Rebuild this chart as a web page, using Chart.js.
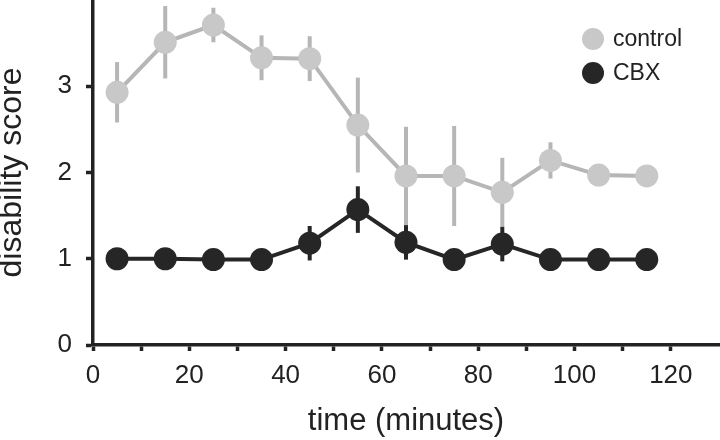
<!DOCTYPE html>
<html>
<head>
<meta charset="utf-8">
<script src="https://cdn.jsdelivr.net/npm/chart.js@4"></script>
<style>
  html, body { margin: 0; padding: 0; background: #fff; }
  #wrap { width: 720px; height: 440px; }
</style>
</head>
<body>
<div id="wrap"><canvas id="chart"></canvas></div>
<script>
// values
const timePoints = [5, 15, 25, 35, 45, 55, 65, 75, 85, 95, 105, 115];
const controlMean = [2.93, 3.51, 3.71, 3.33, 3.32, 2.55, 1.96, 1.96, 1.77, 2.14, 1.97, 1.96];
const controlErr  = [0.35, 0.42, 0.20, 0.26, 0.26, 0.55, 0.57, 0.58, 0.40, 0.21, 0.08, 0.08];
const cbxMean = [1.00, 1.00, 0.99, 0.99, 1.18, 1.57, 1.19, 0.99, 1.17, 0.99, 0.99, 0.99];
const cbxErr  = [0.05, 0.05, 0.05, 0.05, 0.20, 0.27, 0.20, 0.05, 0.20, 0.05, 0.05, 0.05];
const xTickLabels = [0, 20, 40, 60, 80, 100, 120];
const yTickLabels = [0, 1, 2, 3];

const INK = '#222222';
const FONT = 'Liberation Sans, Arial, sans-serif';

function toPoints(means) {
    return timePoints.map((t, i) => ({ x: t, y: means[i] }));
}

// vertical error bars, drawn right before their own dataset
const errorBars = {
    id: 'errorBars',
    beforeDatasetDraw(chart, args) {
        const ds = chart.data.datasets[args.index];
        if (!ds.errors) return;
        const { ctx, scales: { x, y } } = chart;
        ctx.save();
        ctx.strokeStyle = ds.borderColor;
        ctx.lineWidth = 4;
        ds.data.forEach((p, i) => {
            const px = x.getPixelForValue(p.x);
            ctx.beginPath();
            ctx.moveTo(px, y.getPixelForValue(p.y - ds.errors[i]));
            ctx.lineTo(px, y.getPixelForValue(p.y + ds.errors[i]));
            ctx.stroke();
        });
        ctx.restore();
    }
};

// small legend inside the plot, top right
const cornerLegend = {
    id: 'cornerLegend',
    afterDraw(chart) {
        const { ctx, chartArea } = chart;
        const cx = chartArea.right - 126;
        let cy = chartArea.top + 39;
        ctx.save();
        ctx.font = '23px ' + FONT;
        ctx.textBaseline = 'middle';
        ctx.textAlign = 'left';
        chart.data.datasets.forEach(ds => {
            ctx.fillStyle = ds.pointBackgroundColor;
            ctx.beginPath();
            ctx.arc(cx, cy, 11, 0, Math.PI * 2);
            ctx.fill();
            ctx.fillStyle = INK;
            ctx.fillText(ds.label, cx + 20, cy + 1);
            cy += 34;
        });
        ctx.restore();
    }
};

new Chart(document.getElementById('chart'), {
    type: 'line',
    data: {
        datasets: [
            {
                label: 'control',
                data: toPoints(controlMean),
                errors: controlErr,
                borderColor: '#b6b6b6',
                pointBackgroundColor: '#c8c8c8',
                borderWidth: 4,
                pointRadius: 11.5,
                pointBorderWidth: 0,
                order: 2
            },
            {
                label: 'CBX',
                data: toPoints(cbxMean),
                errors: cbxErr,
                borderColor: '#262626',
                pointBackgroundColor: '#262626',
                borderWidth: 4,
                pointRadius: 11.5,
                pointBorderWidth: 0,
                order: 1
            }
        ]
    },
    options: {
        responsive: true,
        maintainAspectRatio: false,
        animation: false,
        layout: { autoPadding: false, padding: { left: 0, right: 1, top: 0, bottom: 0 } },
        plugins: { legend: { display: false }, tooltip: { enabled: false } },
        scales: {
            x: {
                type: 'linear',
                min: 0,
                max: 130,
                afterBuildTicks: s => { s.ticks = s.ticks.filter(t => t.value <= 120); },
                afterFit: s => { s.height = 95; s.paddingLeft = 0; s.paddingRight = 0; },
                ticks: {
                    stepSize: 10,
                    autoSkip: false,
                    maxRotation: 0,
                    padding: 9,
                    color: INK,
                    font: { family: FONT, size: 26 },
                    callback: v => xTickLabels.includes(v) ? String(v) : ''
                },
                grid: { drawOnChartArea: false, tickLength: 6, tickWidth: 3.5, tickColor: INK },
                border: { display: true, color: INK, width: 3.5 },
                title: {
                    display: true,
                    text: 'time (minutes)',
                    color: INK,
                    font: { family: FONT, size: 31 },
                    padding: { top: 0, bottom: 0 }
                }
            },
            y: {
                min: 0,
                max: 4,
                afterBuildTicks: s => { s.ticks = s.ticks.filter(t => yTickLabels.includes(t.value)); },
                afterFit: s => { s.width = 93; s.paddingTop = 0; s.paddingBottom = 0; },
                ticks: {
                    stepSize: 1,
                    padding: 14,
                    color: INK,
                    font: { family: FONT, size: 26 }
                },
                grid: { drawOnChartArea: false, tickLength: 7, tickWidth: 3.5, tickColor: INK },
                border: { display: true, color: INK, width: 3.5 },
                title: {
                    display: true,
                    text: 'disability score',
                    color: INK,
                    font: { family: FONT, size: 32, lineHeight: 0.78 },
                    padding: { top: 0, bottom: 0 }
                }
            }
        }
    },
    plugins: [errorBars, cornerLegend]
});
</script>
</body>
</html>
